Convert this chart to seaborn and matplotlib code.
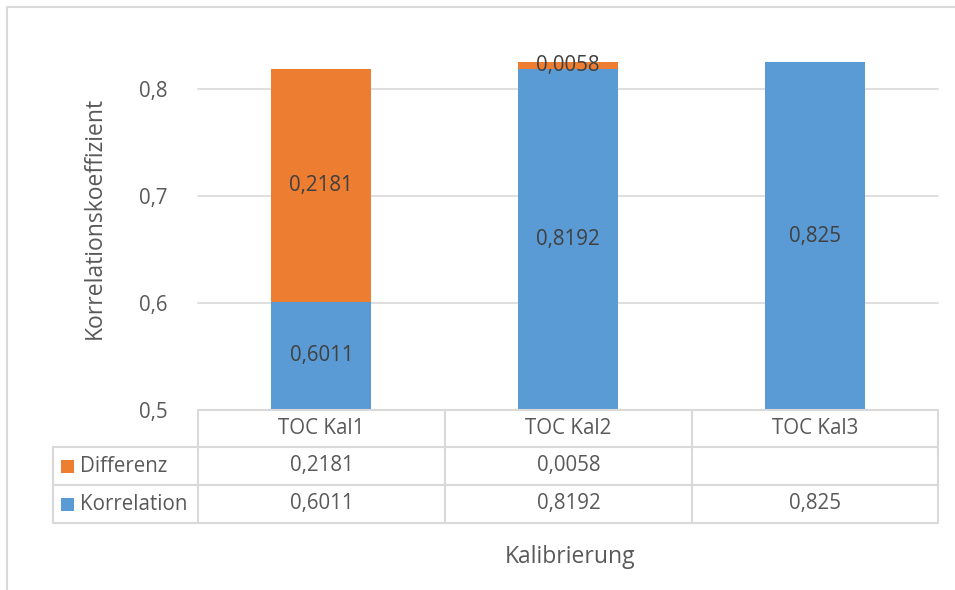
import matplotlib
matplotlib.use("Agg")
import matplotlib.pyplot as plt
from matplotlib.lines import Line2D
from matplotlib.patches import Rectangle
import seaborn as sns
import pandas as pd

# Calibration runs and their correlation results
categories = ["TOC Kal1", "TOC Kal2", "TOC Kal3"]
korrelation = [0.6011, 0.8192, 0.825]
differenz = [0.2181, 0.0058, None]
series_names = ["Differenz", "Korrelation"]
y_ticks = [0.5, 0.6, 0.7, 0.8]

BLUE = "#5B9BD5"
ORANGE = "#ED7D31"
TEXT = "#595959"
GRID = "#D9D9D9"
FS = 14.8
FS_TITLE = 16.5

sns.set_theme(style="white")
plt.rcParams["font.family"] = ["Open Sans", "DejaVu Sans"]

W, H = 955, 590
fig = plt.figure(figsize=(W / 100, H / 100), dpi=100)


def fx(px):
    return px / W


def fy(py):
    return 1 - py / H


ymin, ymax = 0.5, 0.86
ax_left, ax_right, ax_bottom, ax_top = 198, 938, 410, 25
ax = fig.add_axes([fx(ax_left), fy(ax_bottom), fx(ax_right - ax_left),
                   (ax_bottom - ax_top) / H])

diff_vals = [d if d is not None else 0.0 for d in differenz]
totals = [k + d for k, d in zip(korrelation, diff_vals)]
df = pd.DataFrame({"cat": categories, "korr": korrelation, "total": totals})

# stacked bars: totals in orange, correlation part in blue on top
sns.barplot(data=df, x="cat", y="total", color=ORANGE, saturation=1,
            width=0.405, ax=ax, zorder=2)
sns.barplot(data=df, x="cat", y="korr", color=BLUE, saturation=1,
            width=0.405, ax=ax, zorder=3)
for p in ax.patches:
    p.set_edgecolor("none")

ax.set_ylim(ymin, ymax)
ax.set_xlim(-0.5, len(categories) - 0.5)
ax.set_yticks(y_ticks)
ax.set_yticklabels([f"{t:.1f}".replace(".", ",") for t in y_ticks],
                   color=TEXT, fontsize=FS)
ax.tick_params(axis="y", length=0, pad=22)
ax.set_xticks([])
ax.set_xlabel("")
ax.set_ylabel("")
for s in ax.spines.values():
    s.set_visible(False)
for t in y_ticks[1:]:
    ax.axhline(t, color=GRID, lw=1.2, zorder=1, clip_on=False)


def fmt(v):
    return f"{v:g}".replace(".", ",")


# data labels
for i, (k, d) in enumerate(zip(korrelation, differenz)):
    ax.text(i, (ymin + k) / 2, fmt(k), ha="center", va="center",
            color="#404040", fontsize=FS, zorder=5)
    if d is not None:
        ax.text(i, k + d / 2, fmt(d), ha="center", va="center",
                color="#404040", fontsize=FS, zorder=5)

# data table below the plot
tbl_kw = dict(color=GRID, lw=1.5, transform=fig.transFigure)
rows_y = [410, 447, 485, 523]
cols_x = [198, 445, 692, 938]
leg_x = 53
fig.add_artist(Line2D([fx(cols_x[0]), fx(cols_x[-1])], [fy(rows_y[0])] * 2, **tbl_kw))
for y in rows_y[1:]:
    fig.add_artist(Line2D([fx(leg_x), fx(cols_x[-1])], [fy(y)] * 2, **tbl_kw))
for x in cols_x:
    fig.add_artist(Line2D([fx(x)] * 2, [fy(rows_y[0]), fy(rows_y[-1])], **tbl_kw))
fig.add_artist(Line2D([fx(leg_x)] * 2, [fy(rows_y[1]), fy(rows_y[-1])], **tbl_kw))

for j, cat in enumerate(categories):
    cx = (cols_x[j] + cols_x[j + 1]) / 2
    fig.text(fx(cx), fy((rows_y[0] + rows_y[1]) / 2), cat, ha="center",
             va="center", color=TEXT, fontsize=FS)

row_data = [differenz, korrelation]
row_colors = [ORANGE, BLUE]
for r, (name, vals, col) in enumerate(zip(series_names, row_data, row_colors)):
    cy = (rows_y[r + 1] + rows_y[r + 2]) / 2
    fig.add_artist(Rectangle((fx(61), fy(cy + 6.5)), fx(13), 13 / H,
                             facecolor=col, edgecolor="none",
                             transform=fig.transFigure))
    fig.text(fx(80), fy(cy), name, ha="left", va="center", color=TEXT,
             fontsize=FS)
    for j, v in enumerate(vals):
        if v is None:
            continue
        cx = (cols_x[j] + cols_x[j + 1]) / 2
        fig.text(fx(cx), fy(cy), fmt(v), ha="center", va="center",
                 color=TEXT, fontsize=FS)

# axis titles
fig.text(fx(570), fy(557), "Kalibrierung", ha="center", va="center",
         color=TEXT, fontsize=FS_TITLE)
fig.text(fx(95), fy(218), "Korrelationskoeffizient", ha="center",
         va="center", rotation=90, color=TEXT, fontsize=FS_TITLE)

# chart area border
fig.add_artist(Line2D([fx(7), fx(7)], [fy(7), 0], color=GRID, lw=1.5,
                      transform=fig.transFigure))
fig.add_artist(Line2D([fx(7), 1], [fy(7), fy(7)], color=GRID, lw=1.5,
                      transform=fig.transFigure))

fig.savefig("out.png", dpi=100, facecolor="white")
